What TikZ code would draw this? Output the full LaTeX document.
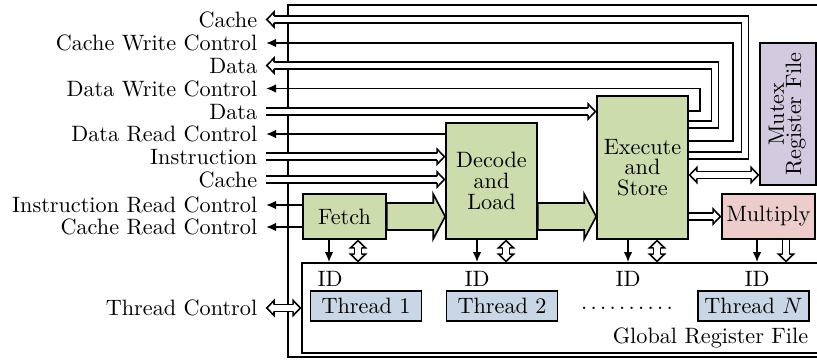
\documentclass[tikz,border=0pt]{standalone}
\usetikzlibrary{arrows.meta,calc}

\definecolor{stagegreen}{HTML}{CDDCAC}
\definecolor{mutexpurple}{HTML}{D2CBE0}
\definecolor{mulpink}{HTML}{EDCDCC}
\definecolor{threadblue}{HTML}{C9D6E6}

% lengths are given in drawing units of 0.45pt
\newcommand\pxl[1]{#1*0.45pt}

\begin{document}
\begin{tikzpicture}[x=0.45pt, y=-0.45pt, line width=0.75pt,
  box/.style={draw, line width=0.75pt, inner sep=0pt, align=center,
              font=\fontsize{10}{9.3}\selectfont},
  stage/.style={box, fill=stagegreen},
  thread/.style={box, fill=threadblue, minimum width=\pxl{111}, minimum height=\pxl{30}},
  lbl/.style={anchor=east, inner xsep=3.6pt, inner ysep=0pt, text height=6.8pt, text depth=0pt},
  ctl/.style={-{Latex[length=4.5pt,width=3.8pt]}},
  bus/.style={double=white, double distance=2.4pt, line width=0.7pt},
  busend/.style={bus, shorten >=3.3pt},
  busboth/.style={bus, shorten >=3.3pt, shorten <=3.3pt},
  blk/.style={draw, fill=stagegreen, line width=0.75pt, line join=miter},
  % open block-arrow head for the buses, tip at the origin, pointing along +x
  hhead/.pic={\filldraw[fill=white, line width=0.7pt, line join=miter, miter limit=10]
      (-8,-3.45) -- (-8,-7.5) -- (-0.8,0) -- (-8,7.5) -- (-8,3.45);}]

\useasboundingbox (0,0) rectangle (817,362);

% chip outline and global register file
\node[draw, minimum width=\pxl{550}, minimum height=\pxl{352}, inner sep=0pt] (chip) at (563,181) {};
\node[draw, minimum width=\pxl{530}, minimum height=\pxl{90}, inner sep=0pt] (grf) at (567,308) {};

% pipeline stages and side units
\node[stage, minimum width=\pxl{83}, minimum height=\pxl{45}] (fetch) at (344.5,216.5) {Fetch};
\node[stage, minimum width=\pxl{91}, minimum height=\pxl{116}] (decode) at (491.5,181) {Decode\\and\\Load};
\node[stage, minimum width=\pxl{91}, minimum height=\pxl{143}] (exe) at (642.5,167.5) {Execute\\and\\Store};
\node[box, fill=mulpink, minimum width=\pxl{93}, minimum height=\pxl{45}] (mul) at (768.5,216.5) {Multiply};
\node[box, fill=mutexpurple, minimum width=\pxl{56}, minimum height=\pxl{142}] (mutex) at (788,114)
  {\rotatebox{90}{\begin{tabular}{@{}c@{}}Mutex\\[-2pt]Register File\end{tabular}}};

% thread slots
\node[thread] (t1) at (366,306) {Thread 1};
\node[thread] (t2) at (502,306) {Thread 2};
\node[thread] (tn) at (753.5,306) {Thread $N$};
\node (dots) at (627,308) {.\hskip1.5pt.\hskip1.5pt.\hskip1.5pt.\hskip1.5pt.\hskip1.5pt.\hskip1.5pt.\hskip1.5pt.\hskip1.5pt.\hskip1.5pt.};
\node (id1) at (330,279) {ID};
\node (id2) at (477,279) {ID};
\node (id3) at (628,279) {ID};
\node (id4) at (757,279) {ID};
\node[anchor=east, inner sep=0pt] (grflbl) at (809,338) {Global Register File};

% external signal labels
\node[lbl] (lcache) at (266,19.5) {Cache};
\node[lbl] (lcwc)   at (266,43)   {Cache Write Control};
\node[lbl] (ldata)  at (266,65.5) {Data};
\node[lbl] (ldwc)   at (266,88.5) {Data Write Control};
\node[lbl] (ldin)   at (266,111.5){Data};
\node[lbl] (ldrc)   at (266,134)  {Data Read Control};
\node[lbl] (linst)  at (266,156.7){Instruction};
\node[lbl] (lcin)   at (266,179.5){Cache};
\node[lbl] (lirc)   at (266,205)  {Instruction Read Control};
\node[lbl] (lcrc)   at (266,227)  {Cache Read Control};
\node[lbl] (ltc)    at (266,308)  {Thread Control};

% outputs of the execute stage, routed over the top
\draw[busend] (exe.east |- 0,155.5) -| (745,19.5) -- (lcache);
\pic[rotate=180] at (lcache.east) {hhead};
\draw[ctl] (exe.east |- 0,141) -| (733,43) -- (lcwc);
\draw[busend] (exe.east |- 0,124.5) -| (715,65.5) -- (ldata);
\pic[rotate=180] at (ldata.east) {hhead};
\draw[ctl] (exe.east |- 0,111) -| (700,88.5) -- (ldwc);

% inputs and controls
\draw[busend] (ldin) -- (exe.west |- ldin);
\pic at (exe.west |- ldin) {hhead};
\draw[ctl] (decode.west |- ldrc) -- (ldrc);
\draw[busend] (linst) -- (decode.west |- linst);
\pic at (decode.west |- linst) {hhead};
\draw[busend] (lcin) -- (decode.west |- lcin);
\pic at (decode.west |- lcin) {hhead};
\draw[ctl] (fetch.west |- lirc) -- (lirc);
\draw[ctl] (fetch.west |- lcrc) -- (lcrc);
\draw[busboth] (ltc) -- (grf.west |- ltc);
\pic[rotate=180] at (ltc.east) {hhead};
\pic at (grf.west |- ltc) {hhead};

% execute to mutex file and multiplier
\draw[busboth] (exe.east |- 0,175) -- (mutex.west |- 0,175);
\pic[rotate=180] at (exe.east |- 0,175) {hhead};
\pic at (mutex.west |- 0,175) {hhead};
\draw[busend] (exe.east |- mul) -- (mul);
\pic at (mul.west) {hhead};

% pipeline block arrows
\draw[blk] ($(fetch.east)+(0,-13.5)$) -- ($(decode.west |- fetch.east)+(-12,-13.5)$)
  -- ($(decode.west |- fetch.east)+(-12,-22.5)$) -- (decode.west |- fetch.east)
  -- ($(decode.west |- fetch.east)+(-12,22.5)$) -- ($(decode.west |- fetch.east)+(-12,13.5)$)
  -- ($(fetch.east)+(0,13.5)$) -- cycle;
\draw[blk] ($(decode.east |- fetch.east)+(0,-13.5)$) -- ($(exe.west |- fetch.east)+(-12,-13.5)$)
  -- ($(exe.west |- fetch.east)+(-12,-22.5)$) -- (exe.west |- fetch.east)
  -- ($(exe.west |- fetch.east)+(-12,22.5)$) -- ($(exe.west |- fetch.east)+(-12,13.5)$)
  -- ($(decode.east |- fetch.east)+(0,13.5)$) -- cycle;

% links down to the global register file
\foreach \cx/\bx/\st in {329/358/fetch, 477/506/decode, 628/657/exe} {
  \draw[ctl] (\cx,0 |- \st.south) -- (\cx,0 |- grf.north);
  \draw[busboth] (\bx,0 |- \st.south) -- (\bx,0 |- grf.north);
  \pic[rotate=90] at (\bx,0 |- \st.south) {hhead};
  \pic[rotate=-90] at (\bx,0 |- grf.north) {hhead};
}
\draw[ctl] (757,0 |- mul.south) -- (757,0 |- grf.north);
\draw[busend] (786,0 |- mul.south) -- (786,0 |- grf.north);
\pic[rotate=-90] at (786,0 |- grf.north) {hhead};

\end{tikzpicture}
\end{document}
